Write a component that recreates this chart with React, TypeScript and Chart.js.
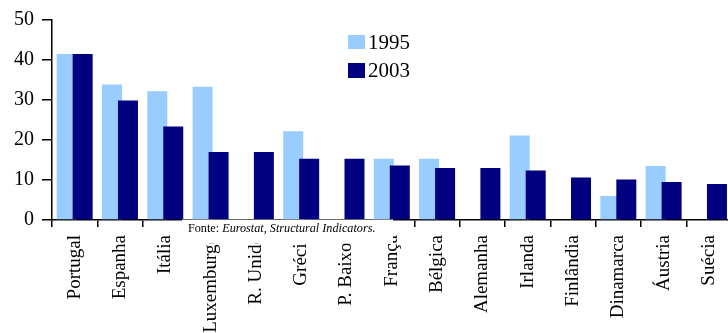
import React, { useEffect, useRef } from "react";
import { Chart, registerables } from "chart.js";

Chart.register(...registerables);

// Países (eixo das categorias)
const countries = [
  "Portugal",
  "Espanha",
  "Itália",
  "Luxemburgo",
  "R. Unido",
  "Grécia",
  "P. Baixos",
  "França",
  "Bélgica",
  "Alemanha",
  "Irlanda",
  "Finlândia",
  "Dinamarca",
  "Áustria",
  "Suécia",
];

// Valores por ano (null = sem dado)
const values1995 = [41.5, 33.9, 32.2, 33.3, null, 22.2, null, 15.3, 15.3, null, 21.1, null, 6.0, 13.5, null];
const values2003 = [41.5, 29.9, 23.4, 17.0, 17.0, 15.3, 15.3, 13.6, 13.0, 13.0, 12.4, 10.6, 10.1, 9.5, 9.0];

const seriesNames = ["1995", "2003"];
const seriesColors = ["#99CCFF", "#000080"];

const yMin = 0;
const yMax = 50;
const yStep = 10;

const sourcePrefix = "Fonte: ";
const sourceBody = "Eurostat, Structural Indicators.";

const SERIF = "'Liberation Serif', 'Times New Roman', serif";

// The 2003 bars overlap the 1995 ones, so draw them last.
const overlapOrder = {
  id: "overlapOrder",
  beforeDatasetDraw(_chart: Chart, args: any) {
    if (args.index === 1) return false;
    return true;
  },
  afterDatasetsDraw(chart: Chart) {
    const meta = chart.getDatasetMeta(1);
    if (!meta || meta.hidden) return;
    const { ctx, chartArea } = chart;
    ctx.save();
    ctx.beginPath();
    ctx.rect(chartArea.left, chartArea.top - 2, chartArea.right - chartArea.left, chartArea.bottom - chartArea.top + 2);
    ctx.clip();
    (meta.controller as any).draw();
    ctx.restore();
  },
};

// Legend box inside the plot area
const insideLegend = {
  id: "insideLegend",
  afterDraw(chart: Chart) {
    const { ctx } = chart;
    ctx.save();
    const rows = [
      { y: 35, h: 14 },
      { y: 63, h: 15 },
    ];
    seriesNames.forEach((name, i) => {
      const r = rows[i];
      ctx.fillStyle = seriesColors[i];
      ctx.fillRect(348, r.y, 17, r.h);
      ctx.fillStyle = "#000";
      ctx.font = `21px ${SERIF}`;
      ctx.textBaseline = "middle";
      ctx.textAlign = "left";
      ctx.fillText(name, 368, r.y + r.h / 2 + 1);
    });
    ctx.restore();
  },
};

// Source note on a white panel over the axis
const sourceNote = {
  id: "sourceNote",
  afterDraw(chart: Chart) {
    const { ctx } = chart;
    ctx.save();
    ctx.fillStyle = "#fff";
    ctx.fillRect(182, 219.6, 211, 24);
    ctx.fillStyle = "#000";
    ctx.textBaseline = "alphabetic";
    ctx.textAlign = "left";
    ctx.font = `12.2px ${SERIF}`;
    const x0 = 188;
    const yb = 232;
    ctx.fillText(sourcePrefix, x0, yb);
    const w = ctx.measureText(sourcePrefix).width;
    ctx.font = `italic 12.2px ${SERIF}`;
    ctx.fillText(sourceBody, x0 + w, yb);
    ctx.restore();
  },
};

export default function App() {
  const canvasRef = useRef<HTMLCanvasElement | null>(null);

  useEffect(() => {
    const canvas = canvasRef.current;
    if (!canvas) return;
    const chart = new Chart(canvas, {
      type: "bar",
      data: {
        labels: countries,
        datasets: [
          {
            label: seriesNames[0],
            data: values1995,
            backgroundColor: seriesColors[0],
            borderWidth: 0,
          },
          {
            label: seriesNames[1],
            data: values2003,
            backgroundColor: seriesColors[1],
            borderWidth: 0,
          },
        ],
      },
      options: {
        responsive: false,
        animation: false,
        devicePixelRatio: 1,
        datasets: {
          bar: {
            categoryPercentage: 0.706,
            barPercentage: 1.25,
          },
        },
        layout: { padding: { top: 19, right: 8, left: 0, bottom: 0 } },
        plugins: {
          legend: { display: false },
          tooltip: { enabled: false },
          title: { display: false },
        },
        scales: {
          x: {
            offset: true,
            grid: {
              offset: true,
              drawOnChartArea: false,
              tickLength: 7,
              color: "#000",
              lineWidth: 1.5,
            },
            border: { color: "#000", width: 1.5 },
            ticks: {
              autoSkip: false,
              minRotation: 90,
              maxRotation: 90,
              color: "#000",
              padding: 8,
              font: { family: SERIF, size: 19 },
            },
            afterFit(scale: any) {
              scale.height = 113;
            },
          },
          y: {
            min: yMin,
            max: yMax,
            grid: {
              drawOnChartArea: false,
              tickLength: 10,
              color: "#000",
              lineWidth: 1.5,
            },
            border: { color: "#000", width: 1.5 },
            ticks: {
              stepSize: yStep,
              color: "#000",
              padding: 8,
              font: { family: SERIF, size: 20 },
            },
            afterFit(scale: any) {
              scale.width = 52;
            },
          },
        },
      },
      plugins: [overlapOrder, insideLegend, sourceNote],
    });
    return () => chart.destroy();
  }, []);

  return (
    <div
      style={{
        position: "fixed",
        left: 0,
        top: 0,
        width: 728,
        height: 333,
        overflow: "hidden",
        background: "#fff",
      }}
    >
      <canvas ref={canvasRef} width={740} height={333} style={{ display: "block", width: 740, height: 333 }} />
    </div>
  );
}
